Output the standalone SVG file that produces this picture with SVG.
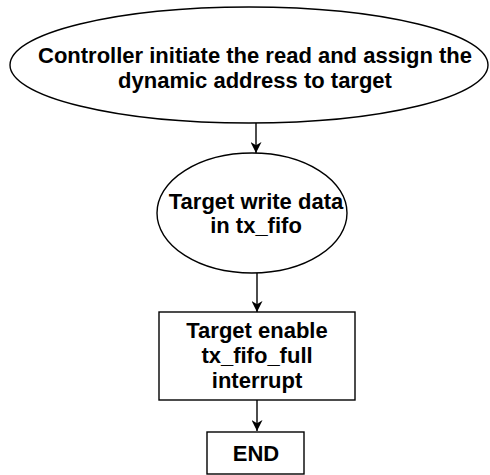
<svg xmlns="http://www.w3.org/2000/svg" width="490" height="475" viewBox="0 0 490 475">
<style>
.s{fill:#fff;stroke:#000;stroke-width:1.4}
.t{font-family:"Liberation Sans",Arial,sans-serif;font-weight:bold;font-size:22px;fill:#000;text-anchor:middle}
.c{stroke:#000;stroke-width:1.4;fill:none}
</style>
<defs>
<marker id="a" viewBox="0 0 10 10" refX="10" refY="5" markerWidth="11" markerHeight="11" markerUnits="userSpaceOnUse" orient="auto">
<path d="M0,0 L10,5 L0,10 L3,5 Z" fill="#000"/>
</marker>
</defs>
<g id="connectors">
<line class="c" x1="256" y1="123" x2="256" y2="153" marker-end="url(#a)"/>
<line class="c" x1="257" y1="273" x2="257" y2="312" marker-end="url(#a)"/>
<line class="c" x1="257" y1="400" x2="257" y2="431" marker-end="url(#a)"/>
</g>
<g id="n1">
<ellipse class="s" cx="249" cy="65" rx="239" ry="58"/>
<text class="t" x="255" y="63">Controller initiate the read and assign the</text>
<text class="t" x="255" y="88">dynamic address to target</text>
</g>
<g id="n2">
<ellipse class="s" cx="252" cy="213" rx="95" ry="60"/>
<text class="t" x="256" y="209">Target write data</text>
<text class="t" x="256" y="233">in tx_fifo</text>
</g>
<g id="n3">
<rect class="s" x="159" y="312" width="196" height="88"/>
<text class="t" x="257" y="338">Target enable</text>
<text class="t" x="257" y="363">tx_fifo_full</text>
<text class="t" x="257" y="388">interrupt</text>
</g>
<g id="n4">
<rect class="s" x="207" y="432" width="97" height="42"/>
<text class="t" x="256" y="461">END</text>
</g>
</svg>
